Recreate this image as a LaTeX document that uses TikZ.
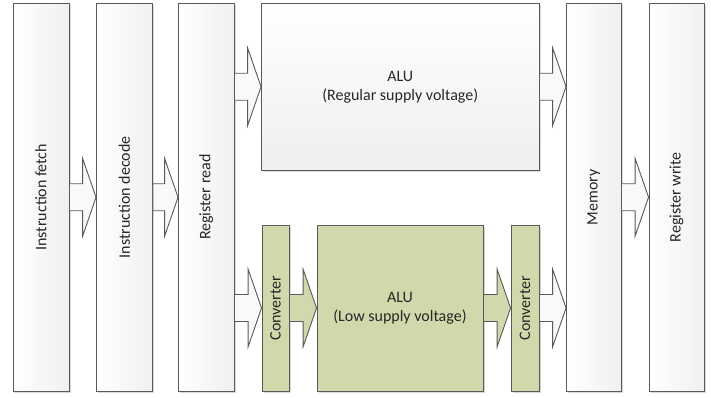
\documentclass[tikz,border=0pt]{standalone}
\usepackage{fontspec}
\setmainfont{Carlito}
\usetikzlibrary{calc,shadows}
\definecolor{bordc}{HTML}{595959}
\definecolor{greenf}{HTML}{D1D9AC}
\definecolor{txtc}{HTML}{262626}
\newcommand\blk[4]{%
  \path[#1] let \p1=(#2.east),\p2=(#3.west),\p3=(#4.center) in
    (\x1,\y3+13.5bp) -- (\x2-13.5bp,\y3+13.5bp) -- (\x2-13.5bp,\y3+39bp) --
    (\x2,\y3) -- (\x2-13.5bp,\y3-39bp) -- (\x2-13.5bp,\y3-13.5bp) -- (\x1,\y3-13.5bp) -- cycle;}
\begin{document}
\begin{tikzpicture}[x=1bp,y=-1bp,
  lbl/.style={text=txtc,font=\fontsize{16bp}{19bp}\selectfont,inner sep=0pt},
  base/.style={draw=bordc,line width=0.9bp,inner sep=0pt,
    drop shadow={shadow xshift=1.5bp,shadow yshift=-1.5bp,fill=black,opacity=0.15}},
  vbox/.style={base,left color=white,right color=gray!12,minimum width=#1,minimum height=387.5bp},
  hbox/.style={base,top color=white,bottom color=gray!13},
  gbox/.style={base,fill=greenf,minimum height=166bp},
  warr/.style={draw=bordc,line width=0.9bp,fill=gray!5,line join=miter},
  garr/.style={draw=bordc,line width=0.9bp,fill=greenf,line join=miter}]
\useasboundingbox (0,0) rectangle (711,397);
% pipeline stages
\node[vbox=56bp,label={[lbl,rotate=90]center:Instruction fetch}] (fetch) at (41,197.25) {};
\node[vbox=56bp,label={[lbl,rotate=90]center:Instruction decode}] (decode) at (124.5,197.25) {};
\node[vbox=55.5bp,label={[lbl,rotate=90]center:Register read}] (regread) at (206.25,197.25) {};
\node[hbox,minimum width=277.5bp,minimum height=166.5bp,align=center,lbl] (alutop) at (400.25,86.75) {ALU\\(Regular supply voltage)};
\node[gbox,minimum width=27bp,label={[lbl,rotate=90]center:Converter}] (conv1) at (275.5,308) {};
\node[gbox,minimum width=166bp,align=center,lbl] (alulow) at (400,308) {ALU\\(Low supply voltage)};
\node[gbox,minimum width=28bp,label={[lbl,rotate=90]center:Converter}] (conv2) at (525,308) {};
\node[vbox=54.5bp,label={[lbl,rotate=90]center:Memory}] (memory) at (593.75,197.25) {};
\node[vbox=55bp,label={[lbl,rotate=90]center:Register write}] (regwrite) at (676.5,197.25) {};
% block arrows
\blk{warr}{fetch}{decode}{decode}
\blk{warr}{decode}{regread}{regread}
\blk{warr}{regread}{alutop}{alutop}
\blk{warr}{regread}{conv1}{conv1}
\blk{garr}{conv1}{alulow}{conv1}
\blk{garr}{alulow}{conv2}{conv2}
\blk{warr}{alutop}{memory}{alutop}
\blk{warr}{conv2}{memory}{conv2}
\blk{warr}{memory}{regwrite}{regwrite}
\end{tikzpicture}
\end{document}
